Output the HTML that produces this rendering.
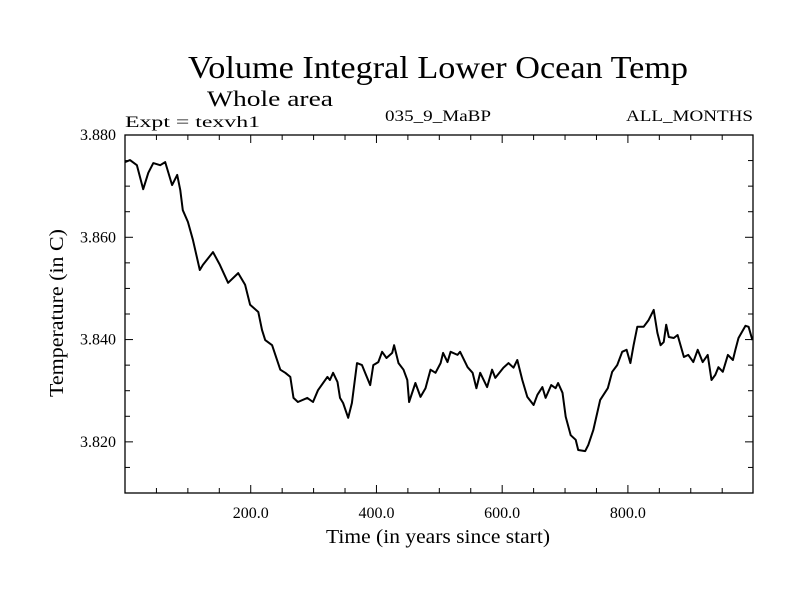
<!DOCTYPE html>
<html><head><meta charset="utf-8"><style>
body{margin:0;background:#fff;}
svg{display:block;font-family:"Liberation Serif",serif;}
</style></head><body>
<svg width="800" height="600" id="c">
<text x="438" y="78" font-size="32" text-anchor="middle" textLength="500" lengthAdjust="spacingAndGlyphs">Volume Integral Lower Ocean Temp</text>
<text x="207" y="106" font-size="22" textLength="126" lengthAdjust="spacingAndGlyphs">Whole area</text>
<text x="125" y="127" font-size="16" textLength="135" lengthAdjust="spacingAndGlyphs">Expt = texvh1</text>
<text x="438" y="121" font-size="16" text-anchor="middle" textLength="106" lengthAdjust="spacingAndGlyphs">035_9_MaBP</text>
<text x="753" y="121" font-size="16" text-anchor="end" textLength="127" lengthAdjust="spacingAndGlyphs">ALL_MONTHS</text>
<text x="438" y="543" font-size="20" text-anchor="middle" textLength="224" lengthAdjust="spacingAndGlyphs">Time (in years since start)</text>
<text x="0" y="0" font-size="20" text-anchor="middle" textLength="168" lengthAdjust="spacingAndGlyphs" transform="translate(63,313) rotate(-90)">Temperature (in C)</text>
<g id="axes"></g>
<rect x="125" y="135" width="628" height="358" fill="none" stroke="#000" stroke-width="1.3"/>
</svg>
<script>
const years=[0,8,19,29,37,45,56,64,75,83,88,92,100,108,119,124,140,151,164,180,191,199,212,218,223,234,247,255,263,268,275,290,299,307,322,326,331,338,342,347,355,361,369,377,382,390,395,403,409,416,425,428,435,443,449,452,462,470,478,486,494,502,506,513,518,529,533,545,553,559,565,576,584,589,602,610,618,624,632,640,650,656,664,669,678,685,689,696,701,709,717,721,732,737,745,756,768,775,783,791,798,804,809,815,825,833,841,847,852,857,861,865,873,879,889,896,904,911,919,927,933,939,944,951,959,967,971,976,987,992,998];
const temps=[3.8747,3.8751,3.8741,3.8694,3.8726,3.8745,3.8741,3.8747,3.8702,3.8722,3.8692,3.8653,3.8630,3.8595,3.8536,3.8546,3.8571,3.8546,3.8511,3.8530,3.8507,3.8468,3.8454,3.8419,3.8399,3.8389,3.8341,3.8335,3.8327,3.8286,3.8278,3.8286,3.8278,3.8301,3.8327,3.8321,3.8335,3.8317,3.8286,3.8276,3.8247,3.8276,3.8354,3.8350,3.8335,3.8311,3.8350,3.8356,3.8376,3.8364,3.8374,3.8389,3.8354,3.8341,3.8321,3.8278,3.8315,3.8288,3.8305,3.8341,3.8335,3.8354,3.8374,3.8356,3.8376,3.8370,3.8376,3.8346,3.8335,3.8305,3.8335,3.8307,3.8341,3.8325,3.8345,3.8354,3.8345,3.8360,3.8321,3.8288,3.8272,3.8292,3.8307,3.8286,3.8311,3.8305,3.8315,3.8296,3.8249,3.8213,3.8204,3.8184,3.8182,3.8194,3.8223,3.8282,3.8305,3.8337,3.8350,3.8376,3.8380,3.8354,3.8389,3.8425,3.8425,3.8438,3.8458,3.8413,3.8389,3.8395,3.8429,3.8405,3.8403,3.8409,3.8366,3.8370,3.8356,3.8380,3.8356,3.8370,3.8321,3.8331,3.8346,3.8337,3.8370,3.8360,3.8380,3.8403,3.8427,3.8425,3.8399];
const xTicks=[200,400,600,800];
const xTickLabels=["200.0","400.0","600.0","800.0"];
const yTicks=[3.82,3.84,3.86,3.88];
const yTickLabels=["3.820","3.840","3.860","3.880"];
const X0=125,X1=753,Y0=493,Y1=135,XMIN=0,XMAX=999,YMIN=3.8100,YMAX=3.8800;
function sx(v){return X0+(v-XMIN)/(XMAX-XMIN)*(X1-X0);}
function sy(v){return Y0-(v-YMIN)/(YMAX-YMIN)*(Y0-Y1);}
const NS="http://www.w3.org/2000/svg";
const g=document.getElementById('axes');
function ln(x1,y1,x2,y2,name){const l=document.createElementNS(NS,'line');l.setAttribute('x1',x1);l.setAttribute('y1',y1);l.setAttribute('x2',x2);l.setAttribute('y2',y2);l.setAttribute('stroke','#000');l.setAttribute('stroke-width','1');


g.appendChild(l);}
for(let v=50;v<XMAX;v+=50){const x=sx(v);const maj=v%200===0;const L=maj?8:5;ln(x,Y0,x,Y0-L,'x-tick');ln(x,Y1,x,Y1+L,'x-tick-top');}
for(let k=0;k<=14;k++){const v=YMIN+k*0.005;const y=sy(v);if(y<Y1-0.5||y>Y0+0.5)continue;const maj=Math.abs((v*1000)%20)<0.01||Math.abs((v*1000)%20-20)<0.01;const L=maj?8:5;ln(X0,y,X0+L,y,'y-tick');ln(X1,y,X1-L,y,'y-tick-right');}
xTicks.forEach((v,i)=>{const t=document.createElementNS(NS,'text');t.setAttribute('x',sx(v));t.setAttribute('y',Y0+25);t.setAttribute('font-size','16');t.setAttribute('text-anchor','middle');t.textContent=xTickLabels[i];


g.appendChild(t);});
yTicks.forEach((v,i)=>{const t=document.createElementNS(NS,'text');t.setAttribute('x',X0-9);t.setAttribute('y',sy(v)+5);t.setAttribute('font-size','16');t.setAttribute('text-anchor','end');t.textContent=yTickLabels[i];


g.appendChild(t);});
const p=document.createElementNS(NS,'path');
p.setAttribute('d',years.map((y,i)=>(i?'L':'M')+sx(y).toFixed(1)+','+sy(temps[i]).toFixed(1)).join(''));
p.setAttribute('fill','none');p.setAttribute('stroke','#000');p.setAttribute('stroke-width','2');p.setAttribute('stroke-linejoin','round');


g.appendChild(p);
</script>
</body></html>
